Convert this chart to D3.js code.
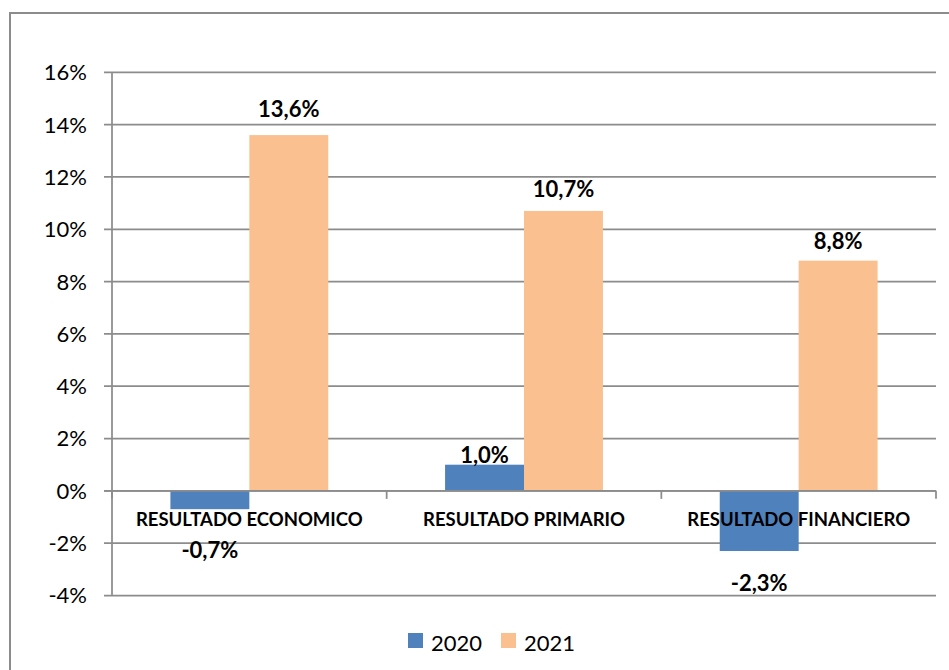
<!DOCTYPE html>
<html>
<head>
<meta charset="utf-8">
<script src="https://cdn.jsdelivr.net/npm/d3@7"></script>
<style>
  html, body { margin: 0; padding: 0; background: #fff; }
  svg { display: block; }
  text { font-family: Lato, "Open Sans", sans-serif; fill: #000; }
</style>
</head>
<body>
<svg id="chart" width="949" height="670"></svg>
<script>
const categories = ["RESULTADO ECONOMICO", "RESULTADO PRIMARIO", "RESULTADO FINANCIERO"];
const seriesNames = ["2020", "2021"];
const values2020 = [-0.7, 1.0, -2.3];
const values2021 = [13.6, 10.7, 8.8];
const yTickValues = [-4, -2, 0, 2, 4, 6, 8, 10, 12, 14, 16];
const colors = { "2020": "#4F81BD", "2021": "#FAC090" };

const svg = d3.select("#chart");
const gridColor = "#8c8c8c";

// outer frame
svg.append("rect")
  .attr("x", 10).attr("y", 13).attr("width", 960).attr("height", 700)
  .attr("fill", "none").attr("stroke", gridColor).attr("stroke-width", 2);

const x = d3.scaleBand().domain(categories).range([112, 936]).padding(0);
const xs = d3.scaleBand().domain(seriesNames).range([0, x.bandwidth()]).paddingInner(0).paddingOuter(0.74);
const y = d3.scaleLinear().domain([-4, 16]).range([595.5, 72.3]);

const fmt = v => (v < 0 ? "-" : "") + Math.abs(v).toFixed(1).replace(".", ",") + "%";

// gridlines
svg.append("g").selectAll("line").data(yTickValues).join("line")
  .attr("x1", 104).attr("x2", 936)
  .attr("y1", d => y(d)).attr("y2", d => y(d))
  .attr("stroke", gridColor).attr("stroke-width", 1.75);

// y tick labels
svg.append("g").selectAll("text").data(yTickValues).join("text")
  .attr("x", 87).attr("y", d => y(d)).attr("dy", "0.36em")
  .attr("text-anchor", "end")
  .style("font-size", "22px")
  .text(d => d + "%");

// data
const data = categories.map((c, i) => ({ cat: c, vals: [
  { s: "2020", v: values2020[i] },
  { s: "2021", v: values2021[i] }
]}));

const groups = svg.append("g").selectAll("g").data(data).join("g")
  .attr("transform", d => `translate(${x(d.cat)},0)`);

groups.selectAll("rect").data(d => d.vals).join("rect")
  .attr("x", d => xs(d.s))
  .attr("width", xs.bandwidth())
  .attr("y", d => y(Math.max(0, d.v)))
  .attr("height", d => Math.abs(y(d.v) - y(0)))
  .attr("fill", d => colors[d.s]);

// y axis line
svg.append("line")
  .attr("x1", 112).attr("x2", 112).attr("y1", y(16)).attr("y2", y(-4))
  .attr("stroke", gridColor).attr("stroke-width", 1.75);

// zero axis line + category ticks
svg.append("line")
  .attr("x1", 104).attr("x2", 936).attr("y1", y(0)).attr("y2", y(0))
  .attr("stroke", gridColor).attr("stroke-width", 1.75);
const bounds = categories.map(c => x(c)).concat([x.range()[1]]);
svg.append("g").selectAll("line").data(bounds).join("line")
  .attr("x1", d => d).attr("x2", d => d)
  .attr("y1", y(0)).attr("y2", y(0) + 8)
  .attr("stroke", gridColor).attr("stroke-width", 1.75);

// category labels
svg.append("g").selectAll("text").data(categories).join("text")
  .attr("x", d => x(d) + x.bandwidth() / 2)
  .attr("y", 526)
  .attr("text-anchor", "middle")
  .style("font-size", "18.5px").style("font-weight", "bold")
  .text(d => d);

// value labels
groups.selectAll("text.val").data(d => d.vals).join("text")
  .attr("class", "val")
  .attr("x", d => xs(d.s) + xs.bandwidth() / 2)
  .attr("y", d => d.v >= 0 ? y(d.v * 1.05) : y(d.v * 0.8) + 52)
  .attr("text-anchor", "middle")
  .style("font-size", "22px").style("font-weight", "bold")
  .text(d => fmt(d.v));

// legend
const legend = svg.append("g");
const legendX = [408, 501];
seriesNames.forEach((s, i) => {
  legend.append("rect")
    .attr("x", legendX[i]).attr("y", 633).attr("width", 15).attr("height", 15)
    .attr("fill", colors[s]);
  legend.append("text")
    .attr("x", legendX[i] + 23).attr("y", 651)
    .style("font-size", "22px")
    .text(s);
});
</script>
</body>
</html>
